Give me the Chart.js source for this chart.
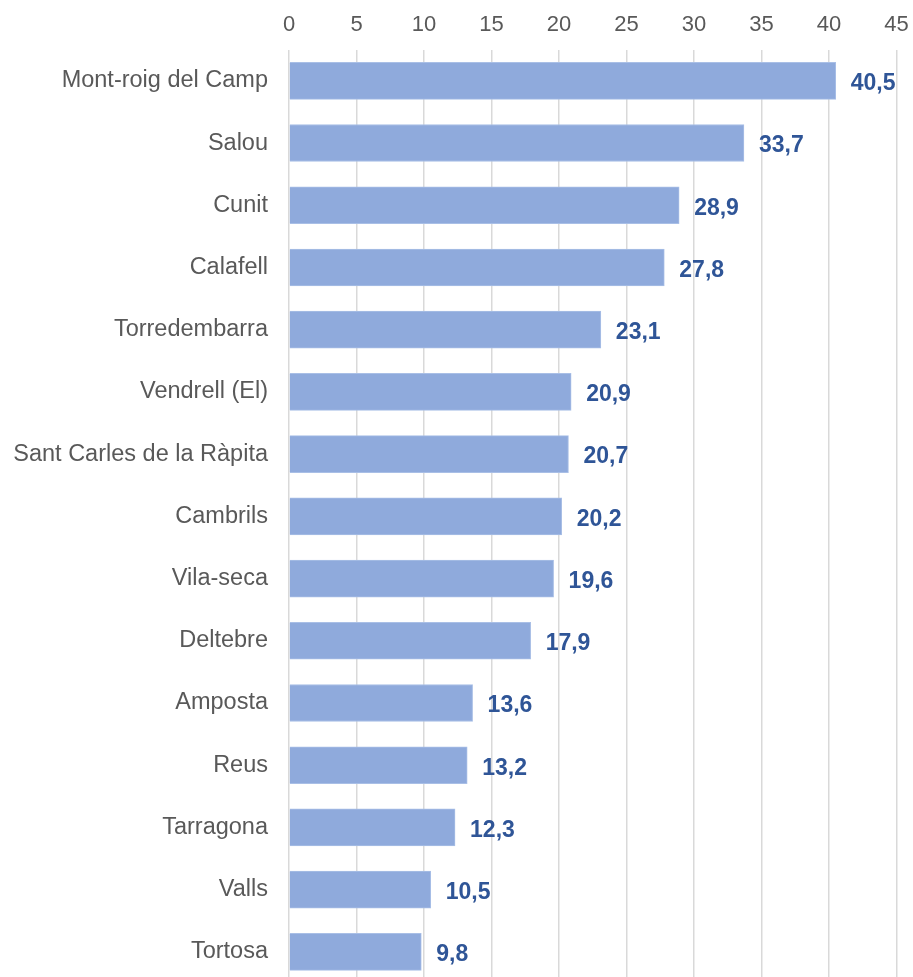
<!DOCTYPE html>
<html>
<head>
<meta charset="utf-8">
<script src="https://cdn.jsdelivr.net/npm/chart.js@4.4.1/dist/chart.umd.min.js"></script>
<style>
  html, body { margin: 0; padding: 0; background: #fff; overflow: hidden; }
  #wrap { width: 913px; height: 977px; overflow: hidden; }
  #chart { display: block; }
</style>
</head>
<body>
<div id="wrap"><canvas id="chart" width="913" height="983"></canvas></div>
<script>
// Municipalities and values
const municipis = [
    'Mont-roig del Camp', 'Salou', 'Cunit', 'Calafell', 'Torredembarra',
    'Vendrell (El)', 'Sant Carles de la Ràpita', 'Cambrils', 'Vila-seca',
    'Deltebre', 'Amposta', 'Reus', 'Tarragona', 'Valls', 'Tortosa'
];
const valors = [40.5, 33.7, 28.9, 27.8, 23.1, 20.9, 20.7, 20.2, 19.6, 17.9, 13.6, 13.2, 12.3, 10.5, 9.8];
const xTicks = [0, 5, 10, 15, 20, 25, 30, 35, 40, 45];

const FONT = "'Liberation Sans', Arial, sans-serif";
const GREY_TEXT = '#595959';
const LABEL_BLUE = '#2F5597';

// Draw value labels at the end of each bar
const valueLabels = {
    id: 'valueLabels',
    afterDatasetsDraw(chart) {
        const ctx = chart.ctx;
        const meta = chart.getDatasetMeta(0);
        ctx.save();
        ctx.font = 'bold 23px ' + FONT;
        ctx.fillStyle = LABEL_BLUE;
        ctx.textAlign = 'left';
        ctx.textBaseline = 'middle';
        meta.data.forEach((bar, i) => {
            const txt = valors[i].toFixed(1).replace('.', ',');
            ctx.fillText(txt, bar.x + 15, bar.y + 3);
        });
        ctx.restore();
    }
};

// no extra padding for overflowing tick labels
function noPad(scale) {
    scale.paddingLeft = 0;
    scale.paddingRight = 0;
    scale.paddingTop = 0;
    scale.paddingBottom = 0;
}

new Chart(document.getElementById('chart'), {
    type: 'bar',
    data: {
        labels: municipis,
        datasets: [{
            data: valors,
            backgroundColor: '#8FAADC',
            borderColor: '#A9BFE6',
            borderWidth: 1,
            barThickness: 37
        }]
    },
    options: {
        indexAxis: 'y',
        responsive: false,
        animation: false,
        layout: { padding: { left: 0, right: 16.5, top: 0, bottom: 0 } },
        plugins: {
            legend: { display: false },
            tooltip: { enabled: false }
        },
        scales: {
            x: {
                position: 'top',
                min: 0,
                max: 45,
                afterBuildTicks(scale) {
                    scale.ticks = xTicks.map(v => ({ value: v }));
                },
                afterFit(scale) { scale.height = 49.7; noPad(scale); },
                grid: { color: '#D9D9D9', lineWidth: 1.5, drawTicks: false },
                border: { display: false },
                ticks: {
                    color: GREY_TEXT,
                    font: { family: FONT, size: 22 },
                    padding: 12
                }
            },
            y: {
                afterFit(scale) { scale.width = 289; noPad(scale); },
                grid: { display: false, drawTicks: false },
                border: { display: false },
                ticks: {
                    color: GREY_TEXT,
                    font: { family: FONT, size: 23.5 },
                    padding: 21
                }
            }
        }
    },
    plugins: [valueLabels]
});
</script>
</body>
</html>
